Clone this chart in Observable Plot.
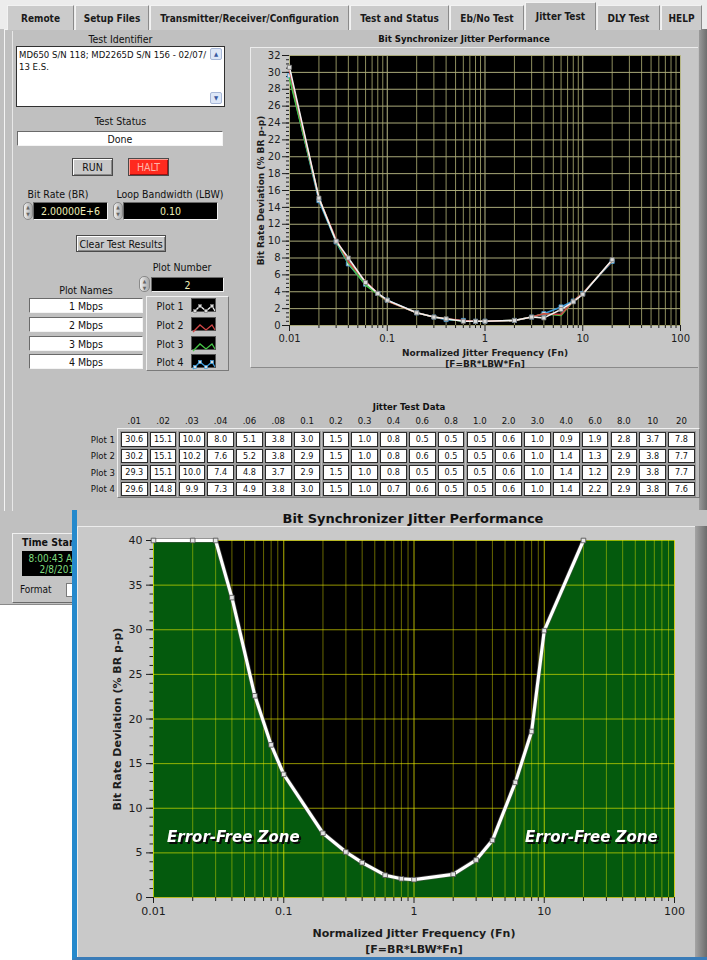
<!DOCTYPE html>
<html><head><meta charset="utf-8">
<script src="https://cdn.jsdelivr.net/npm/d3@7"></script>
<script src="https://cdn.jsdelivr.net/npm/@observablehq/plot@0.6"></script>
<style>
html,body{margin:0;padding:0;}
body{width:707px;height:960px;position:relative;overflow:hidden;background:#ffffff;font-family:"DejaVu Sans Condensed","DejaVu Sans",sans-serif;color:#111;}
.abs{position:absolute;box-sizing:border-box;}
.tab{position:absolute;top:5px;height:25px;box-sizing:border-box;background:#cbcbcb;border:1px solid #8a8a8a;border-bottom:none;border-top-color:#f2f2f2;border-left-color:#f2f2f2;font:bold 10px "DejaVu Sans Condensed";display:flex;align-items:center;justify-content:center;color:#1a1a1a;white-space:nowrap;}
.tab.act{top:2px;height:28px;background:#c0c0c0;z-index:3;}
.lbl{position:absolute;font-size:10.5px;text-align:center;white-space:nowrap;line-height:12px;}
.sunk{position:absolute;box-sizing:border-box;background:#fff;border:1px solid;border-color:#6a6a6a #f4f4f4 #f4f4f4 #6a6a6a;font-size:10.5px;display:flex;align-items:center;justify-content:center;white-space:nowrap;}
.btn{position:absolute;box-sizing:border-box;background:#c8c8c8;border:1px solid #4a4a4a;box-shadow:inset 1px 1px 0 #fff, inset -1px -1px 0 #888;font-size:10.5px;display:flex;align-items:center;justify-content:center;white-space:nowrap;}
.num{position:absolute;box-sizing:border-box;background:#000;color:#eeeeb8;border:1px solid;border-color:#6a6a6a #f0f0f0 #f0f0f0 #6a6a6a;font-size:10.5px;display:flex;align-items:center;justify-content:center;}
.inc{position:absolute;box-sizing:border-box;background:linear-gradient(90deg,#f0f0f0,#a8a8a8);border:1px solid #8a8a8a;border-radius:5px;font-size:5px;line-height:7px;color:#666;text-align:center;padding-top:1px;}
.cell{position:absolute;box-sizing:border-box;background:#fff;border:1px solid #2a2a2a;box-shadow:0 0 0 1px #9a9a9a;font-size:9px;display:flex;align-items:center;justify-content:center;}
.hdr{position:absolute;font-size:9.5px;text-align:center;}
</style></head><body>

<!-- window background -->
<div class="abs" style="left:0;top:0;width:707px;height:30px;background:#ececec;"></div>
<div class="abs" style="left:0;top:29px;width:707px;height:576px;background:#c0c0c0;border-bottom:1px solid #8a8a8a;"></div>
<div class="abs" style="left:4px;top:29px;width:697px;height:482px;background:#c0c0c0;border-top:1px solid #f4f4f4;border-left:1px solid #f4f4f4;"></div>
<div class="abs" style="left:699px;top:29px;width:8px;height:482px;background:linear-gradient(90deg,#9a9a9a,#6e6e6e);"></div>
<div class="tab" style="left:7px;width:67px;">Remote</div>
<div class="tab" style="left:75px;width:74px;">Setup Files</div>
<div class="tab" style="left:150px;width:199px;">Transmitter/Receiver/Configuration</div>
<div class="tab" style="left:350px;width:99px;">Test and Status</div>
<div class="tab" style="left:450px;width:74px;">Eb/No Test</div>
<div class="tab act" style="left:525px;width:71px;">Jitter Test</div>
<div class="tab" style="left:597px;width:63px;">DLY Test</div>
<div class="tab" style="left:661px;width:41px;">HELP</div>
<div class="abs" style="left:12px;top:31px;width:1px;height:480px;background:#e8e8e8;"></div>

<!-- left controls -->
<div class="lbl" style="left:17px;top:33px;width:207px;">Test Identifier</div>
<div class="abs" style="left:16px;top:46px;width:209px;height:61px;background:#fff;border:1px solid #303030;font-size:9.5px;line-height:12px;padding:2px 2px;">MD650 S/N 118; MD2265D S/N 156 - 02/07/<br>13 E.S.</div>
<div class="abs" style="left:210px;top:48px;width:12px;height:12px;background:#dde7f7;border:1px solid #a8b8d8;border-radius:2px;font-size:6px;color:#3a5aa0;text-align:center;line-height:10px;">▲</div>
<div class="abs" style="left:210px;top:92px;width:12px;height:12px;background:#dde7f7;border:1px solid #a8b8d8;border-radius:2px;font-size:6px;color:#3a5aa0;text-align:center;line-height:10px;">▼</div>
<div class="lbl" style="left:17px;top:115px;width:207px;">Test Status</div>
<div class="sunk" style="left:17px;top:131px;width:206px;height:15px;">Done</div>
<div class="btn" style="left:72px;top:158px;width:41px;height:18px;">RUN</div>
<div class="btn" style="left:128px;top:158px;width:41px;height:18px;background:#ff2a1e;color:#ffb4a8;box-shadow:inset 1px 1px 0 #ff9a90, inset -1px -1px 0 #a01010;">HALT</div>
<div class="lbl" style="left:8px;top:188px;width:100px;">Bit Rate (BR)</div>
<div class="lbl" style="left:115px;top:188px;width:110px;">Loop Bandwidth (LBW)</div>
<div class="inc" style="left:23px;top:202px;width:10px;height:18px;">▲<br>▼</div>
<div class="num" style="left:33px;top:202px;width:75px;height:18px;">2.00000E+6</div>
<div class="inc" style="left:113px;top:202px;width:10px;height:18px;">▲<br>▼</div>
<div class="num" style="left:123px;top:202px;width:95px;height:18px;">0.10</div>
<div class="btn" style="left:76px;top:235px;width:90px;height:17px;">Clear Test Results</div>
<div class="lbl" style="left:140px;top:261px;width:84px;">Plot Number</div>
<div class="inc" style="left:139px;top:276px;width:11px;height:16px;">▲<br>▼</div>
<div class="num" style="left:151px;top:277px;width:73px;height:15px;">2</div>
<div class="lbl" style="left:30px;top:284px;width:112px;">Plot Names</div>
<div id="names"></div>
<div class="abs" style="left:146px;top:296px;width:83px;height:75px;background:#c4c4c4;border:1px solid;border-color:#f0f0f0 #7a7a7a #7a7a7a #f0f0f0;"></div>
<div id="legend"></div>

<!-- top chart panel -->
<div class="abs" style="left:250px;top:47px;width:448px;height:321px;background:#c7c7c7;border-top:1px solid #ececec;border-left:1px solid #ececec;border-bottom:1px solid #8a8a8a;"></div>
<div class="lbl" style="left:334px;top:33px;width:260px;font:bold 9.5px 'DejaVu Sans Condensed';">Bit Synchronizer Jitter Performance</div>
<div id="topchart" class="abs" style="left:250px;top:47px;"></div>

<!-- table -->
<div class="lbl" style="left:309px;top:401px;width:200px;font:bold 9.5px 'DejaVu Sans Condensed';">Jitter Test Data</div>
<div class="abs" style="left:117px;top:428px;width:583px;height:70px;background:#bdbdbd;border:1px solid;border-color:#f0f0f0 #7a7a7a #7a7a7a #f0f0f0;"></div>
<div id="table"></div>

<!-- time stamp -->
<div class="abs" style="left:12px;top:533px;width:70px;height:70px;background:#c4c4c4;border:1px solid;border-color:#f0f0f0 #6a6a6a #6a6a6a #f0f0f0;"></div>
<div class="lbl" style="left:22px;top:536px;font:bold 10.5px 'DejaVu Sans Condensed';text-align:left;">Time Stamp</div>
<div class="abs" style="left:22px;top:551px;width:60px;height:25px;background:#000;color:#7fdc7f;font-size:10px;line-height:11px;text-align:right;padding:2px 2px 0 0;">8:00:43 AM<br>2/8/2013</div>
<div class="lbl" style="left:20px;top:584px;text-align:left;font-size:10px;">Format</div>
<div class="abs" style="left:66px;top:583px;width:14px;height:14px;background:#fff;border:1px solid #7a7a7a;"></div>

<!-- overlay window -->
<div class="abs" style="left:72px;top:510px;width:635px;height:450px;background:#c2c2c2;border-left:5px solid #2589cc;border-bottom:3px solid #3a7cb8;"></div>
<div class="abs" style="left:77px;top:526px;width:618px;height:431px;background:#c9c9c9;border-top:1px solid #ececec;border-left:1px solid #ececec;"></div>
<div class="abs" style="left:695px;top:526px;width:12px;height:431px;background:linear-gradient(90deg,#a4a4a4,#6c6c6c);"></div>
<div class="lbl" style="left:213px;top:511px;width:400px;font:bold 13px 'DejaVu Sans';line-height:16px;">Bit Synchronizer Jitter Performance</div>
<div id="botchart" class="abs" style="left:77px;top:526px;"></div>

<script>
// ---------- data ----------
const jitterFreq = [0.01,0.02,0.03,0.04,0.06,0.08,0.1,0.2,0.3,0.4,0.6,0.8,1,2,3,4,6,8,10,20];
const colLabels = [".01",".02",".03",".04",".06",".08","0.1","0.2","0.3","0.4","0.6","0.8","1.0","2.0","3.0","4.0","6.0","8.0","10","20"];
const plotNames = ["Plot 1","Plot 2","Plot 3","Plot 4"];
const rateNames = ["1 Mbps","2 Mbps","3 Mbps","4 Mbps"];
const plot1 = [30.6,15.1,10.0,8.0,5.1,3.8,3.0,1.5,1.0,0.8,0.5,0.5,0.5,0.6,1.0,0.9,1.9,2.8,3.7,7.8];
const plot2 = [30.2,15.1,10.2,7.6,5.2,3.8,2.9,1.5,1.0,0.8,0.6,0.5,0.5,0.6,1.0,1.4,1.3,2.9,3.8,7.7];
const plot3 = [29.3,15.1,10.0,7.4,4.8,3.7,2.9,1.5,1.0,0.8,0.5,0.5,0.5,0.6,1.0,1.4,1.2,2.9,3.8,7.7];
const plot4 = [29.6,14.8,9.9,7.3,4.9,3.8,3.0,1.5,1.0,0.7,0.6,0.5,0.5,0.6,1.0,1.4,2.2,2.9,3.8,7.6];
const seriesColors = ["#f2f2f2","#d04646","#46c446","#3b9bdb"];
const seriesMarkers = [true,false,false,true];
// specification limit curve (bottom chart)
const limitFreq = [0.01,0.02,0.03,0.04,0.06,0.08,0.1,0.2,0.3,0.4,0.6,0.8,1,2,3,4,6,8,10,20];
const limitDev  = [40,40,40,33.6,22.6,17.1,13.8,7.2,5.1,3.9,2.5,2.1,2.0,2.6,4.2,6.4,12.9,18.6,29.9,40];
const zoneLabels = [{x:0.041, y:6.8, text:"Error-Free Zone"},{x:23, y:6.8, text:"Error-Free Zone"}];
// axis ticks
const xDomain = [0.01,100];
const xMajor = [0.01,0.1,1,10,100];
const xMajorLabels = ["0.01","0.1","1","10","100"];
const topYDomain = [0,32];
const topYTicks = [0,2,4,6,8,10,12,14,16,18,20,22,24,26,28,30,32];
const botYDomain = [0,40];
const botYTicks = [0,5,10,15,20,25,30,35,40];
const yTitle = "Bit Rate Deviation (% BR p-p)";
const xTitle = "Normalized Jitter Frequency (Fn)\n[F=BR*LBW*Fn]";

const seriesValues = [plot1,plot2,plot3,plot4];
const xMinor = d3.scaleLog().domain(xDomain).ticks().filter(v => !xMajor.some(m => Math.abs(v-m)/m < 1e-9));
const topYMinor = d3.range(topYDomain[0], topYDomain[1]+0.01, 0.5);
const botYMinor = d3.range(botYDomain[0], botYDomain[1]+0.01, 1);
const fmtMajor = d => xMajorLabels[xMajor.findIndex(m => Math.abs(d-m)/m < 1e-9)];
const xMid = Math.sqrt(xDomain[0]*xDomain[1]);   // centre of the log axis
const xTitleRow = [{x:xMid, text:xTitle}];

// ---------- left controls: names + legend ----------
const namesDiv = document.getElementById("names");
const legendDiv = document.getElementById("legend");
const rowTops = [298,317,336,354];
rateNames.forEach((n,i)=>{
  const d = document.createElement("div");
  d.className = "sunk"; d.style.cssText = `left:29px;top:${rowTops[i]}px;width:114px;height:15px;`;
  d.textContent = n; namesDiv.appendChild(d);
  const l = document.createElement("div");
  l.className = "lbl"; l.style.cssText = `left:152px;top:${rowTops[i]+2}px;width:36px;`;
  l.textContent = plotNames[i]; legendDiv.appendChild(l);
  const sw = document.createElement("div");
  sw.className = "abs";
  sw.style.cssText = `left:191px;top:${rowTops[i]}px;width:25px;height:14px;background:#000;border:1px solid #555;`;
  const c = seriesColors[i];
  let marks = "";
  if (seriesMarkers[i]) [[3,9],[8,4],[14,9],[20,4]].forEach(p=>{marks += `<rect x="${p[0]-1.5}" y="${p[1]-1.5}" width="3" height="3" fill="#ddd" stroke="${c==="#f2f2f2"?"#777":c}" stroke-width="0.7"/>`;});
  sw.innerHTML = `<svg width="23" height="12"><polyline points="1,11 8,4 14,9 20,4 23,9" fill="none" stroke="${c}" stroke-width="1.3"/>${marks}</svg>`;
  legendDiv.appendChild(sw);
});

// ---------- table ----------
const tableDiv = document.getElementById("table");
const colX = j => 121 + j*28.8;
colLabels.forEach((lab,j)=>{
  const h = document.createElement("div");
  h.className = "hdr"; h.style.cssText = `left:${colX(j)}px;top:415px;width:26.5px;`;
  h.textContent = lab; tableDiv.appendChild(h);
});
seriesValues.forEach((vals,i)=>{
  const top = 432 + i*16.6;
  const r = document.createElement("div");
  r.className = "lbl"; r.style.cssText = `left:74px;top:${top+1.5}px;width:41px;text-align:right;font-size:9.5px;`;
  r.textContent = plotNames[i]; tableDiv.appendChild(r);
  vals.forEach((v,j)=>{
    const c = document.createElement("div");
    c.className = "cell"; c.style.cssText = `left:${colX(j)}px;top:${top}px;width:26.5px;height:14.5px;`;
    c.textContent = v.toFixed(1); tableDiv.appendChild(c);
  });
});

// ---------- top chart ----------
const topMarks = [
  Plot.frame({fill:"#000"}),
  Plot.gridX({ticks:xMinor, stroke:"#8e8e5e", strokeOpacity:1}),
  Plot.gridX({ticks:xMajor, stroke:"#b6b686", strokeOpacity:1}),
  Plot.gridY({ticks:topYTicks, stroke:"#a9a979", strokeOpacity:1}),
  Plot.axisX({ticks:xMajor, tickFormat:fmtMajor, tickSize:6, tickPadding:3, label:null}),
  Plot.axisX({ticks:xMinor, tickSize:3, tickFormat:()=>"", label:null}),
  Plot.axisY({ticks:topYTicks, tickSize:7, tickPadding:2, label:null}),
  Plot.axisY({ticks:topYMinor, tickSize:3, tickFormat:()=>"", label:null}),
];
for (let i = seriesValues.length-1; i >= 0; i--) {
  const rows = jitterFreq.map((f,j)=>({x:f, y:seriesValues[i][j]}));
  topMarks.push(Plot.line(rows, {x:"x", y:"y", stroke:seriesColors[i], strokeWidth:1.6}));
  if (seriesMarkers[i]) topMarks.push(Plot.dot(rows, {x:"x", y:"y", symbol:"square", r:2.3, fill:"#dcdcdc", stroke:i===0?"#777":seriesColors[i], strokeWidth:0.8}));
}
topMarks.push(
  Plot.text([yTitle], {text:d=>d, frameAnchor:"left", dx:-28, rotate:-90, textAnchor:"middle", fontWeight:"bold", fontSize:9, fontFamily:"DejaVu Sans"}),
  Plot.text(xTitleRow, {x:"x", text:"text", frameAnchor:"bottom", dy:23, lineAnchor:"top", lineHeight:1.22, textAnchor:"middle", fontWeight:"bold", fontSize:9, fontFamily:"DejaVu Sans"})
);
const topPlot = Plot.plot({
  width:448, height:323, marginLeft:39, marginRight:18, marginTop:8, marginBottom:45,
  x:{type:"log", domain:xDomain, label:null},
  y:{domain:topYDomain, label:null},
  style:{background:"transparent", fontFamily:"DejaVu Sans", fontSize:"10px", color:"#1c1c1c", overflow:"visible"},
  marks: topMarks
});
document.getElementById("topchart").appendChild(topPlot);

// ---------- bottom chart ----------
const limitRows = limitFreq.map((f,j)=>({x:f, y:limitDev[j]}));
const fillRows = limitRows.concat([{x:xDomain[1], y:botYDomain[1]}]);
const botPlot = Plot.plot({
  width:620, height:432, marginLeft:76, marginRight:23, marginTop:14, marginBottom:61,
  x:{type:"log", domain:xDomain, label:null},
  y:{domain:botYDomain, label:null},
  style:{background:"transparent", fontFamily:"DejaVu Sans", fontSize:"11px", color:"#1c1c1c", overflow:"visible"},
  marks:[
    Plot.frame({fill:"#000"}),
    Plot.areaY(fillRows, {x:"x", y:"y", fill:"#045a0d"}),
    Plot.gridX({ticks:xMinor, stroke:"#e4e400", strokeOpacity:0.45}),
    Plot.gridX({ticks:xMajor, stroke:"#f2f200", strokeOpacity:0.72}),
    Plot.gridY({ticks:botYTicks, stroke:"#eeee00", strokeOpacity:0.62}),
    Plot.axisX({ticks:xMajor, tickFormat:fmtMajor, tickSize:6, tickPadding:4, label:null}),
    Plot.axisX({ticks:xMinor, tickSize:4, tickFormat:()=>"", label:null}),
    Plot.axisY({ticks:botYTicks, tickSize:7, tickPadding:4, label:null}),
    Plot.axisY({ticks:botYMinor, tickSize:3.5, tickFormat:()=>"", label:null}),
    Plot.line(limitRows, {x:"x", y:"y", stroke:"#5a5a5a", strokeWidth:4.6, strokeOpacity:0.6}),
    Plot.line(limitRows, {x:"x", y:"y", stroke:"#ffffff", strokeWidth:3.2}),
    Plot.dot(limitRows, {x:"x", y:"y", symbol:"square", r:2.6, fill:"#e6e6e6", stroke:"#4a4a4a", strokeWidth:0.8}),
    Plot.text(zoneLabels, {x:"x", y:"y", text:"text", fill:"#ffffff", fontSize:15, fontWeight:"bold", fontStyle:"italic", fontFamily:"DejaVu Sans"}),
    Plot.text([yTitle], {text:d=>d, frameAnchor:"left", dx:-36, rotate:-90, textAnchor:"middle", fontWeight:"bold", fontSize:11, fontFamily:"DejaVu Sans"}),
    Plot.text(xTitleRow, {x:"x", text:"text", frameAnchor:"bottom", dy:28, lineAnchor:"top", lineHeight:1.45, textAnchor:"middle", fontWeight:"bold", fontSize:11, fontFamily:"DejaVu Sans"})
  ]
});
botPlot.querySelectorAll('g[font-style="italic"]').forEach(g => { g.style.filter = "drop-shadow(2px 2px 0px #0a0a0a)"; });
document.getElementById("botchart").appendChild(botPlot);
</script>
</body></html>
